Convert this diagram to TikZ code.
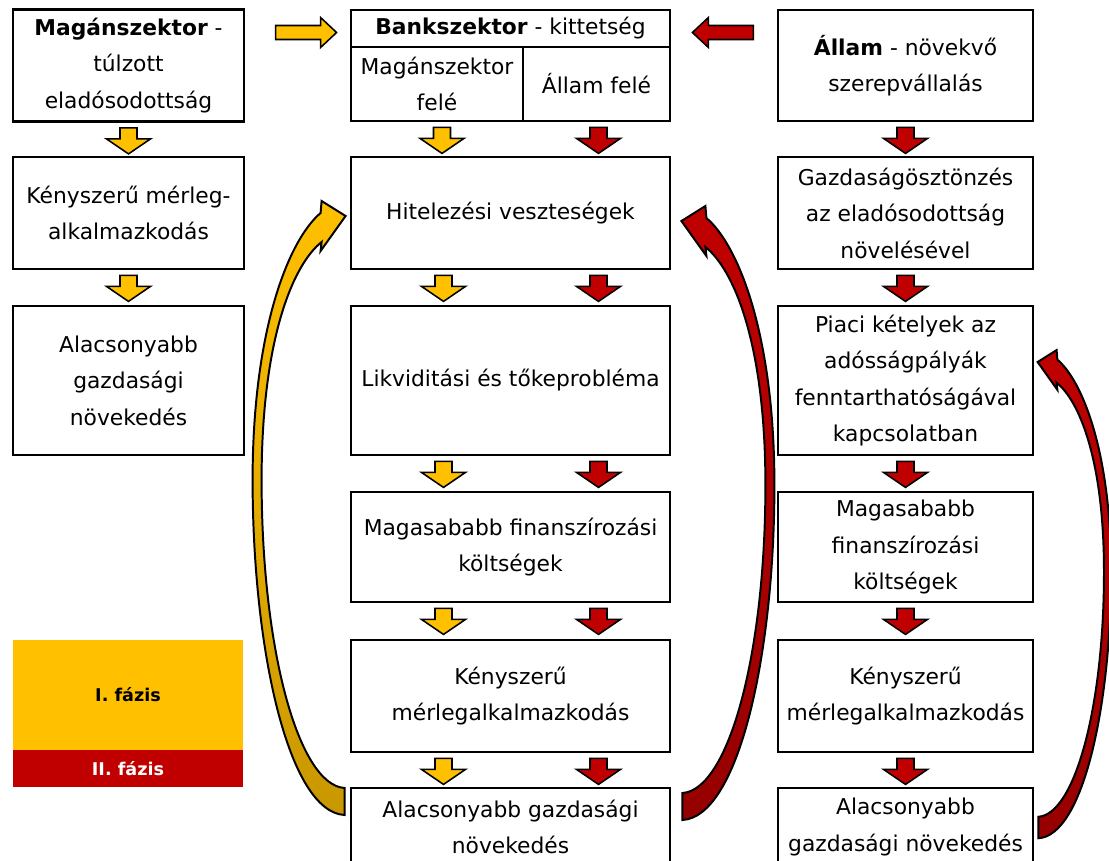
\documentclass[tikz,border=0pt]{standalone}
\usepackage{fontspec}
\setmainfont{DejaVu Sans}
\usetikzlibrary{calc}

\definecolor{phaseone}{HTML}{FFC000}
\definecolor{phasetwo}{HTML}{C00000}
\definecolor{goldshade}{HTML}{C99700}
\definecolor{darkred}{HTML}{960000}

\def\px{0.025cm}
\def\boxfont{\fontsize{15.5}{26}\selectfont}
% outline of the bent block arrow, tip at (0,0), tail below
\def\bentarrow{%
  (0,599) .. controls (-56,596) and (-92,434) .. (-92,264)
  .. controls (-92,114) and (-56,24) .. (-24,-3) -- (-23,-15) -- (1,0)
  -- (-24,35) -- (-23,26) .. controls (-52,49) and (-83,124) .. (-83,264)
  .. controls (-83,434) and (-46,569) .. (0,572) -- cycle}

\tikzset{
  stagebox/.style={draw, line width=2pt, align=center, font=\boxfont, inner sep=2pt},
  colL/.style={stagebox, minimum width=231*\px},
  colM/.style={stagebox, minimum width=319*\px},
  colR/.style={stagebox, minimum width=255*\px},
  phasebox/.style={minimum width=230*\px, inner sep=0pt, font=\bfseries\fontsize{12.5}{15}\selectfont},
  pics/downarr/.style={code={
    \filldraw[fill=#1, line width=1.1pt]
      (-8.5,0) -- (8.5,0) -- (8.5,11) -- (22,11) -- (0,26) -- (-22,11) -- (-8.5,11) -- cycle;
  }},
  pics/sidearr/.style={code={
    \filldraw[fill=#1, line width=1.1pt]
      (0,-7) -- (45,-7) -- (45,-15) -- (61,0) -- (45,15) -- (45,7) -- (0,7) -- cycle;
  }},
}

\begin{document}
\begin{tikzpicture}[x=0.025cm, y=-0.025cm]
\useasboundingbox (0,0) rectangle (1109,860);
\clip (0,0) rectangle (1109,860);

% left column
\node[colL, minimum height=112*\px] (magan) at (128.5,65.5) {\textbf{Magánszektor} -\\túlzott\\eladósodottság};
\node[colL, minimum height=112*\px] (kenyL) at (128.5,213) {Kényszerű mérleg-\\alkalmazkodás};
\node[colL, minimum height=149*\px] (alacsL) at (128.5,380.5) {Alacsonyabb\\gazdasági\\növekedés};

% middle column
\node[colM, minimum height=37*\px] (bankhead) at (510.5,28.5) {\textbf{Bankszektor} - kittetség};
\node[stagebox, minimum width=172*\px, minimum height=74*\px] (bankL) at (437,84) {Magánszektor\\felé};
\node[stagebox, minimum width=147*\px, minimum height=74*\px] (bankR) at (596.5,84) {Állam felé};
\node[colM, minimum height=112*\px] (hitel) at (510.5,213) {Hitelezési veszteségek};
\node[colM, minimum height=149*\px] (likv) at (510.5,380.5) {Likviditási és tőkeprobléma};
\node[colM, minimum height=110*\px] (magas) at (510.5,547) {Magasababb finanszírozási\\költségek};
\node[colM, minimum height=112*\px] (kenysz) at (510.5,696) {Kényszerű\\mérlegalkalmazkodás};
\node[colM, minimum height=78*\px] (alacs) at (510.5,827) {Alacsonyabb gazdasági\\növekedés};

% right column
\node[colR, minimum height=111*\px] (allam) at (905.5,65.5) {\textbf{Állam} - növekvő\\szerepvállalás};
\node[colR, minimum height=112*\px] (gazd) at (905.5,213) {Gazdaságösztönzés\\az eladósodottság\\növelésével};
\node[colR, minimum height=149*\px] (piaci) at (905.5,380.5) {Piaci kételyek az\\adósságpályák\\fenntarthatóságával\\kapcsolatban};
\node[colR, minimum height=110*\px] (magasR) at (905.5,547) {Magasababb\\finanszírozási\\költségek};
\node[colR, minimum height=112*\px] (kenyszR) at (905.5,696) {Kényszerű\\mérlegalkalmazkodás};
\node[colR, minimum height=78*\px] (alacsR) at (905.5,827) {Alacsonyabb\\gazdasági növekedés};

% legend
\node[phasebox, fill=phaseone, minimum height=110*\px] (phase1) at (128,695) {I. fázis};
\node[phasebox, fill=phasetwo, text=white, minimum height=37*\px] (phase2) at (128,768.5) {II. fázis};

% block arrows
\pic at ([shift={(-74,4)}]bankhead.west) {sidearr=phaseone};
\pic[xscale=-1] at ([shift={(82,4)}]bankhead.east) {sidearr=phasetwo};
\pic at ([shift={(5,5)}]bankL.south) {downarr=phaseone};
\pic at ([shift={(2,5)}]bankR.south) {downarr=phasetwo};
\foreach \n in {hitel,likv,magas,kenysz}{
  \pic at ([shift={(-67,5)}]\n.south) {downarr=phaseone};
  \pic at ([shift={(88,5)}]\n.south) {downarr=phasetwo};
}
\foreach \n in {magan,kenyL}
  \pic at ([shift={(0,5)}]\n.south) {downarr=phaseone};
\foreach \n in {allam,gazd,piaci,magasR,kenyszR}
  \pic at ([shift={(0,5)}]\n.south) {downarr=phasetwo};

% feedback arrows
\coordinate (ytip) at ([shift={(-5,3)}]hitel.west);
\coordinate (rtip) at ([shift={(11,8)}]hitel.east);
\coordinate (ptip) at ([shift={(4,-18.5)}]piaci.east);
\begin{scope}[shift={(ytip)}]
  \draw[line width=1.4pt, top color=phaseone, bottom color=goldshade] \bentarrow;
\end{scope}
\begin{scope}[shift={(rtip)}, xscale=-1]
  \draw[line width=1.4pt, top color=phasetwo, bottom color=darkred] \bentarrow;
\end{scope}
\begin{scope}[shift={(ptip)}, xscale=-0.79, yscale=0.795]
  \draw[line width=1.4pt, top color=phasetwo, bottom color=darkred] \bentarrow;
\end{scope}
\end{tikzpicture}
\end{document}
